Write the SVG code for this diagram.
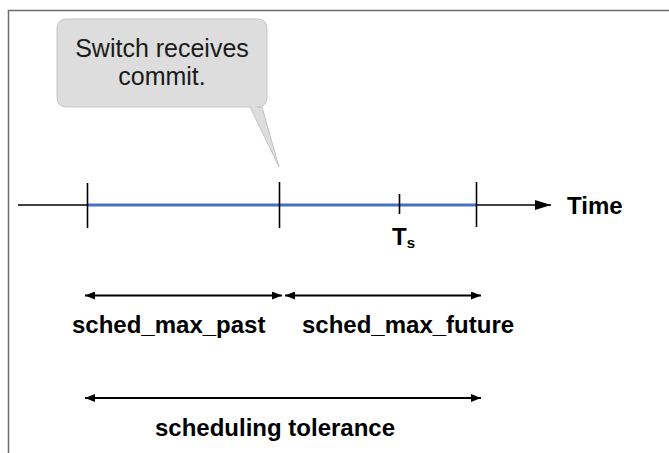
<svg xmlns="http://www.w3.org/2000/svg" width="669" height="453" viewBox="0 0 669 453">
<style>
.lbl{font-family:"Liberation Sans",Arial,sans-serif;font-weight:bold;font-size:24px;fill:#000}
.call{font-family:"Liberation Sans",Arial,sans-serif;font-size:25px;fill:#1a1a1a}
.tick{stroke:#000;stroke-width:1.6}
.dim{stroke:#000;stroke-width:2;fill:none}
</style>
<defs>
<marker id="ah" viewBox="0 0 10 8" refX="10" refY="4" markerWidth="10" markerHeight="8" markerUnits="userSpaceOnUse" orient="auto-start-reverse">
<path d="M0,0 L10,4 L0,8 Z" fill="#000"/>
</marker>
<marker id="ta" viewBox="0 0 16 10" refX="16" refY="5" markerWidth="16" markerHeight="10" markerUnits="userSpaceOnUse" orient="auto">
<path d="M0,0 L16,5 L0,10 Z" fill="#000"/>
</marker>
</defs>
<path d="M8.5,453 V10.5 H669" fill="none" stroke="#6e6e6e" stroke-width="1.5"/>
<g id="callout">
<path d="M67,19 H257 Q267,19 267,29 V97 Q267,107 257,107 H262 L279,167 L250,107 H67 Q57,107 57,97 V29 Q57,19 67,19 Z" fill="#dddddd" stroke="#c4c4c4" stroke-width="1"/>
<text class="call" x="162" y="57" text-anchor="middle">Switch receives</text>
<text class="call" x="162" y="85" text-anchor="middle">commit.</text>
</g>
<g id="timeline">
<line x1="18" y1="205" x2="88" y2="205" stroke="#000" stroke-width="1.6"/>
<line x1="88" y1="205" x2="476" y2="205" stroke="#4472c4" stroke-width="3"/>
<line x1="476" y1="205" x2="551" y2="205" stroke="#000" stroke-width="1.6" marker-end="url(#ta)"/>
<line class="tick" x1="87.5" y1="183" x2="87.5" y2="228"/>
<line class="tick" x1="279.5" y1="182" x2="279.5" y2="228"/>
<line class="tick" x1="399.5" y1="194" x2="399.5" y2="214"/>
<line class="tick" x1="476.5" y1="182" x2="476.5" y2="227"/>
<text class="lbl" x="567" y="214">Time</text>
<text class="lbl" x="392" y="245">T<tspan font-size="15" dy="3">s</tspan></text>
</g>
<g id="connectors">
<line class="dim" x1="85" y1="295.5" x2="282" y2="295.5" marker-start="url(#ah)" marker-end="url(#ah)"/>
<line class="dim" x1="285" y1="295.5" x2="481" y2="295.5" marker-start="url(#ah)" marker-end="url(#ah)"/>
<line class="dim" x1="85" y1="398" x2="481" y2="398" marker-start="url(#ah)" marker-end="url(#ah)"/>
</g>
<g id="labels">
<text class="lbl" x="72" y="333">sched_max_past</text>
<text class="lbl" x="302" y="333">sched_max_future</text>
<text class="lbl" x="275" y="436" text-anchor="middle">scheduling tolerance</text>
</g>
</svg>
